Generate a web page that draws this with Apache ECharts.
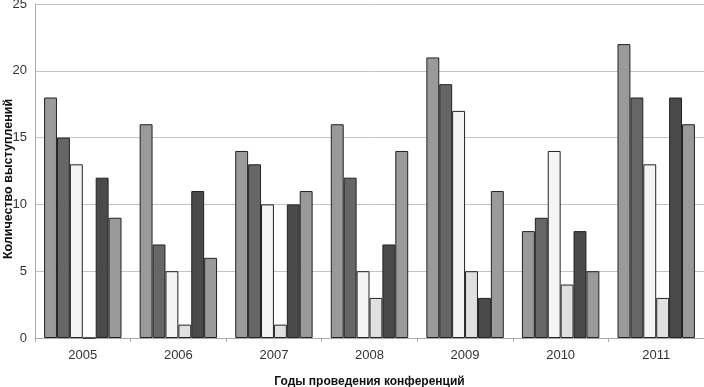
<!DOCTYPE html>
<html>
<head>
<meta charset="utf-8">
<script src="https://cdn.jsdelivr.net/npm/echarts@6/dist/echarts.min.js"></script>
<style>
  html, body { margin: 0; padding: 0; background: #fff; }
  #chart { width: 704px; height: 387px; }
</style>
</head>
<body>
<div id="chart"></div>
<script>
const years = ["2005", "2006", "2007", "2008", "2009", "2010", "2011"];
const s1 = [18, 16, 14, 16, 21, 8, 22];
const s2 = [15, 7, 13, 12, 19, 9, 18];
const s3 = [13, 5, 10, 5, 17, 14, 13];
const s4 = [0, 1, 1, 3, 5, 4, 3];
const s5 = [12, 11, 10, 7, 3, 8, 18];
const s6 = [9, 6, 11, 14, 11, 5, 16];

const fills = ["#9a9a9a", "#666666", "#f4f4f4", "#e0e0e0", "#4a4a4a", "#9a9a9a"];

const chart = echarts.init(document.getElementById("chart"));

const mkBar = (data, i) => ({
  type: "bar",
  data: data,
  barGap: 0,
  barCategoryGap: "19%",
  itemStyle: {
    color: fills[i],
    borderColor: "#222",
    borderWidth: 1,
  },
});

chart.setOption({
  animation: false,
  textStyle: { fontFamily: "Liberation Sans, Arial, sans-serif" },
  grid: { left: 35, right: 0, top: 4, bottom: 49, containLabel: false, outerBoundsMode: "none" },
  xAxis: {
    type: "category",
    data: years,
    name: "Годы проведения конференций",
    nameLocation: "middle",
    nameGap: 38,
    nameMoveOverlap: false,
    nameTextStyle: { fontWeight: "bold", fontSize: 12, color: "#111" },
    axisLine: { lineStyle: { color: "#aaa" } },
    axisTick: { show: true, length: 4, lineStyle: { color: "#aaa" } },
    axisLabel: { color: "#333", fontSize: 13, margin: 11 },
  },
  yAxis: {
    type: "value",
    min: 0,
    max: 25,
    interval: 5,
    name: "Количество выступлений",
    nameLocation: "middle",
    nameGap: 20,
    nameMoveOverlap: false,
    nameTextStyle: { fontWeight: "bold", fontSize: 12.5, color: "#111", padding: [0, 16, 0, 0] },
    axisLine: { show: true, lineStyle: { color: "#aaa" } },
    axisTick: { show: false },
    axisLabel: { color: "#333", fontSize: 13, margin: 8 },
    splitLine: { lineStyle: { color: "#c4c4c4" } },
  },
  series: [s1, s2, s3, s4, s5, s6].map(mkBar),
});
</script>
</body>
</html>
